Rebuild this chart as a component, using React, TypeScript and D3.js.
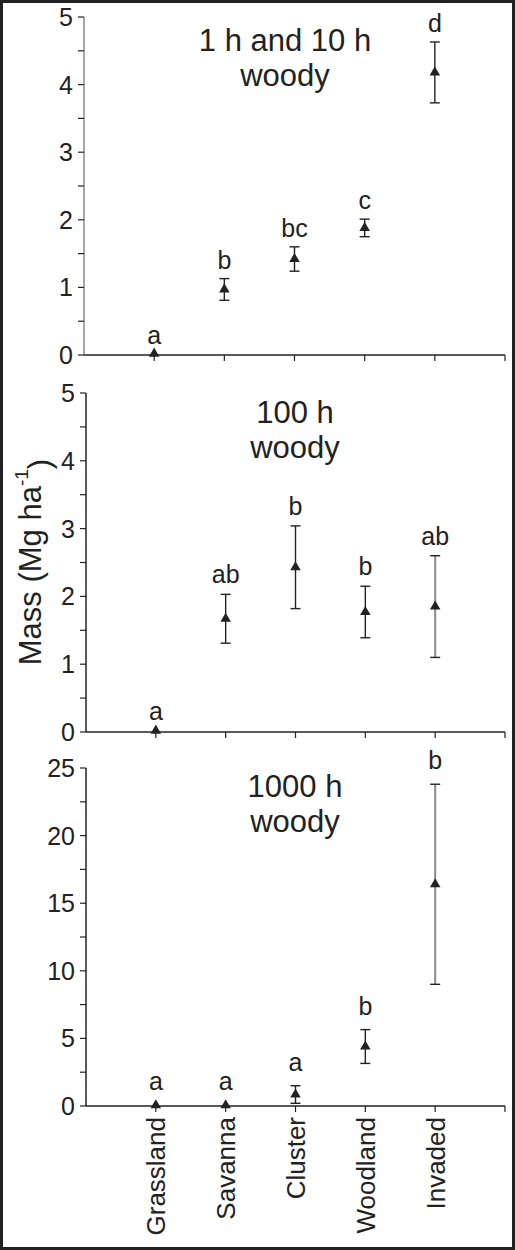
import React from "react";
import * as d3 from "d3";

const categories = ["Grassland", "Savanna", "Cluster", "Woodland", "Invaded"];

const fineMean = [0.02, 0.97, 1.42, 1.88, 4.18];
const fineErr = [0, 0.16, 0.18, 0.13, 0.45];
const fineLetters = ["a", "b", "bc", "c", "d"];

const h100Mean = [0.02, 1.67, 2.43, 1.77, 1.85];
const h100Err = [0, 0.36, 0.61, 0.38, 0.75];
const h100Letters = ["a", "ab", "b", "b", "ab"];

const h1000Mean = [0.05, 0.05, 0.85, 4.4, 16.4];
const h1000Err = [0, 0, 0.65, 1.25, 7.4];
const h1000Letters = ["a", "a", "a", "b", "b"];

const fineTicks = [0, 1, 2, 3, 4, 5];
const h100Ticks = [0, 1, 2, 3, 4, 5];
const h1000Ticks = [0, 5, 10, 15, 20, 25];

const FONT = "'Liberation Sans', Arial, Helvetica, sans-serif";
const DARK = "#222";
const GRAY = "#8a8a8a";

type PanelProps = {
  mean: number[];
  err: number[];
  letters: string[];
  ticks: number[];
  yMax: number;
  minorStep: number;
  y0: number;
  y1: number;
  axisX: number;
  yAxisColor: string;
  title: string[];
  titleX: number;
  titleY: number;
  letterGap: number;
  grayBars: boolean[];
  showCats?: boolean;
};

function Panel(p: PanelProps) {
  const x = d3.scaleLinear().domain([0, 6]).range([p.axisX, 505]);
  const y = d3.scaleLinear().domain([0, p.yMax]).range([p.y0, p.y1]);
  const minor = d3.range(0, p.yMax + 1e-9, p.minorStep);
  const tri = d3.symbol().type(d3.symbolTriangle).size(48)();
  return (
    <g>
      <line x1={p.axisX} x2={p.axisX} y1={y(0)} y2={y(p.yMax)} stroke={p.yAxisColor} strokeWidth={1.5} />
      {minor.map((t, i) => (
        <line key={"m" + i} x1={p.axisX - 6} x2={p.axisX} y1={y(t)} y2={y(t)} stroke={DARK} strokeWidth={1.2} />
      ))}
      {p.ticks.map((t) => (
        <text key={"t" + t} x={p.axisX - 11} y={y(t)} dy="0.36em" textAnchor="end" fontSize={25} fontFamily={FONT} fill={DARK}>
          {t}
        </text>
      ))}
      <line x1={p.axisX} x2={x(6)} y1={y(0)} y2={y(0)} stroke={DARK} strokeWidth={1.5} />
      {d3.range(1, 7).map((k) => (
        <line key={"x" + k} x1={x(k)} x2={x(k)} y1={y(0)} y2={y(0) + 6} stroke={DARK} strokeWidth={1.2} />
      ))}
      {p.title.map((s, i) => (
        <text key={"ti" + i} x={p.titleX} y={p.titleY + i * 35} textAnchor="middle" fontSize={31} fontFamily={FONT} fill={DARK}>
          {s}
        </text>
      ))}
      {categories.map((c, i) => {
        const cx = x(i + 1);
        const m = p.mean[i];
        const e = p.err[i];
        const top = y(m + e);
        const bot = y(Math.max(0, m - e));
        return (
          <g key={c}>
            {e > 0 && (
              <g>
                <line x1={cx} x2={cx} y1={top} y2={bot} stroke={p.grayBars[i] ? GRAY : DARK} strokeWidth={p.grayBars[i] ? 2 : 1.4} />
                <line x1={cx - 5} x2={cx + 5} y1={top} y2={top} stroke={DARK} strokeWidth={1.4} />
                <line x1={cx - 5} x2={cx + 5} y1={bot} y2={bot} stroke={DARK} strokeWidth={1.4} />
              </g>
            )}
            <path d={tri || ""} transform={`translate(${cx},${y(m)})`} fill={DARK} />
            <text x={cx} y={top - p.letterGap} textAnchor="middle" fontSize={25} fontFamily={FONT} fill={DARK}>
              {p.letters[i]}
            </text>
            {p.showCats && (
              <text
                transform={`translate(${cx},${y(0) + 11}) rotate(-90)`}
                dy="0.36em"
                textAnchor="end"
                fontSize={26}
                fontFamily={FONT}
                fill={DARK}
              >
                {c}
              </text>
            )}
          </g>
        );
      })}
    </g>
  );
}

export default function App() {
  return (
    <svg width={515} height={1250} style={{ position: "absolute", left: 0, top: 0, background: "#fff" }}>
      <rect x={0} y={0} width={515} height={1250} fill="#fff" />
      <Panel
        mean={fineMean}
        err={fineErr}
        letters={fineLetters}
        ticks={fineTicks}
        yMax={5}
        minorStep={0.5}
        y0={355}
        y1={17}
        axisX={84}
        yAxisColor={GRAY}
        title={["1 h and 10 h", "woody"]}
        titleX={285}
        titleY={51}
        letterGap={10}
        grayBars={[false, false, false, false, false]}
      />
      <Panel
        mean={h100Mean}
        err={h100Err}
        letters={h100Letters}
        ticks={h100Ticks}
        yMax={5}
        minorStep={0.5}
        y0={732}
        y1={393}
        axisX={86}
        yAxisColor={DARK}
        title={["100 h", "woody"]}
        titleX={295}
        titleY={423}
        letterGap={11}
        grayBars={[false, false, false, false, true]}
      />
      <Panel
        mean={h1000Mean}
        err={h1000Err}
        letters={h1000Letters}
        ticks={h1000Ticks}
        yMax={25}
        minorStep={2.5}
        y0={1106}
        y1={768}
        axisX={86}
        yAxisColor={DARK}
        title={["1000 h", "woody"]}
        titleX={295}
        titleY={797}
        letterGap={15}
        grayBars={[false, false, false, false, true]}
        showCats
      />
      <text
        transform="translate(30,562) rotate(-90)"
        dy="0.36em"
        textAnchor="middle"
        fontSize={31}
        fontFamily={FONT}
        fill={DARK}
      >
        Mass (Mg ha
        <tspan dy="-0.7em" fontSize={19}>-1</tspan>
        <tspan dy="0.7em">)</tspan>
      </text>
      <rect x={1.5} y={1.5} width={512} height={1247} fill="none" stroke={DARK} strokeWidth={3} />
    </svg>
  );
}
